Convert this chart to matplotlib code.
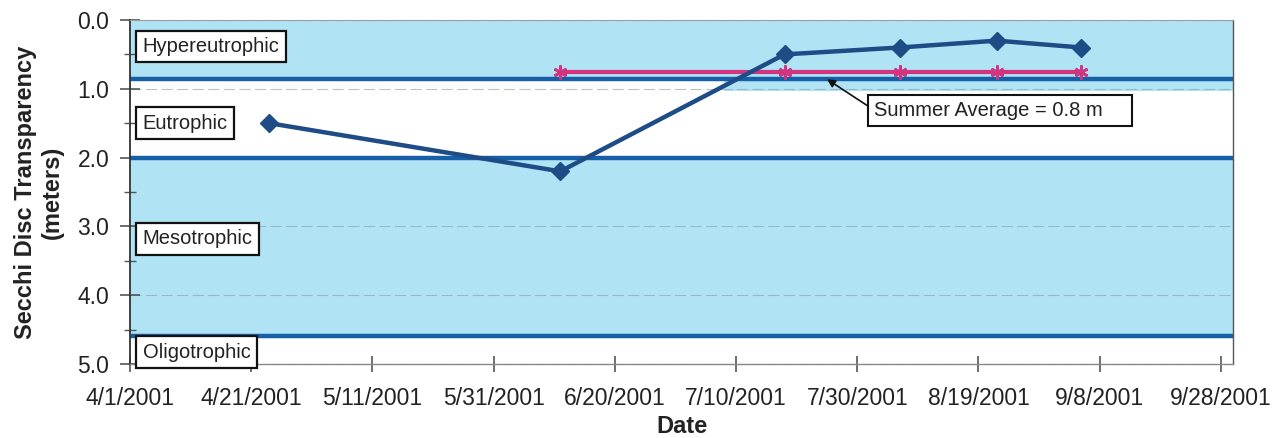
import datetime as dt

import matplotlib
matplotlib.use("Agg")
import matplotlib.pyplot as plt
import matplotlib.dates as mdates
from matplotlib.ticker import MultipleLocator, FormatStrFormatter, FixedLocator
from matplotlib.transforms import blended_transform_factory

plt.rcParams['font.family'] = ['Liberation Sans', 'DejaVu Sans']

# --- data -------------------------------------------------------------------
sample_dates = ["2001-04-24", "2001-06-11", "2001-07-18",
                "2001-08-06", "2001-08-22", "2001-09-05"]
secchi_m = [1.5, 2.2, 0.5, 0.4, 0.3, 0.4]
summer_start = "2001-06-01"

trophic_labels = ["Hypereutrophic", "Eutrophic", "Mesotrophic", "Oligotrophic"]
trophic_label_depths = [0.385, 1.5, 3.18, 4.83]
trophic_bounds = [0.86, 2.0, 4.6]

tick_dates = ["2001-04-01", "2001-04-21", "2001-05-11", "2001-05-31",
              "2001-06-20", "2001-07-10", "2001-07-30", "2001-08-19",
              "2001-09-08", "2001-09-28"]
tick_labels = ["4/1/2001", "4/21/2001", "5/11/2001", "5/31/2001",
               "6/20/2001", "7/10/2001", "7/30/2001", "8/19/2001",
               "9/8/2001", "9/28/2001"]

# --- styling ----------------------------------------------------------------
BAND_BLUE = "#b0e4f5"
LINE_BLUE = "#175fa6"
NAVY = "#1d4c86"
PINK = "#d3347f"
TEXT = "#222222"


def to_num(s):
    return mdates.date2num(dt.datetime.strptime(s, "%Y-%m-%d"))


x = [to_num(s) for s in sample_dates]
summer_idx = [i for i, s in enumerate(sample_dates) if s >= summer_start]
summer_x = [x[i] for i in summer_idx]
summer_avg = sum(secchi_m[i] for i in summer_idx) / len(summer_idx)

fig = plt.figure(figsize=(12.84, 4.38), dpi=100)
ax = fig.add_axes([130 / 1284, 1 - 364 / 438, 1103 / 1284, 344 / 438])

x0, x1 = to_num("2001-04-01"), to_num("2001-09-30")
ax.set_xlim(x0, x1)
ax.set_ylim(5.0, 0.0)

# trophic background bands
ax.axhspan(0, trophic_bounds[2], color=BAND_BLUE, lw=0, zorder=0)
split = to_num("2001-07-08")
ax.fill_between([x0, split], trophic_bounds[0], trophic_bounds[1],
                color="white", lw=0, zorder=0.5)
ax.fill_between([split, x1], 1.03, trophic_bounds[1],
                color="white", lw=0, zorder=0.5)

ax.yaxis.grid(True, which="major", color="#8c9aa2", lw=0.8,
              ls=(0, (10, 4)), alpha=0.6, zorder=1)

for b in trophic_bounds:
    ax.axhline(b, color=LINE_BLUE, lw=3.2, zorder=2)

# summer average
ax.plot(summer_x, [summer_avg] * len(summer_x), color=PINK, lw=3,
        marker=(6, 2, 0), ms=10, mew=2, mec=PINK, zorder=3)

# Secchi readings
ax.plot(x, secchi_m, color=NAVY, lw=3.2, marker="D", ms=9,
        mfc=NAVY, mec=NAVY, zorder=4)

# trophic state labels
lbl_tr = blended_transform_factory(ax.transAxes, ax.transData)
for name, depth in zip(trophic_labels, trophic_label_depths):
    ax.text(0.0115, depth, name, transform=lbl_tr, ha="left", va="center",
            fontsize=14.5, color=TEXT, zorder=6, clip_on=False,
            bbox=dict(boxstyle="square,pad=0.32", fc="white",
                      ec="#111111", lw=1.6))

ax.annotate(f"Summer Average = {summer_avg:.1f} m    ",
            xy=(to_num("2001-07-25"), summer_avg + 0.1),
            xytext=(to_num("2001-08-01") + 0.8, 1.31),
            ha="left", va="center", fontsize=14.5, color=TEXT, zorder=6,
            bbox=dict(boxstyle="square,pad=0.3", fc="white",
                      ec="#111111", lw=1.5),
            arrowprops=dict(arrowstyle="-|>", color="#111111", lw=1.2,
                            mutation_scale=12, relpos=(0, 0.5),
                            shrinkA=0, shrinkB=0))

# axes and ticks
ax.xaxis.set_major_locator(FixedLocator([to_num(s) for s in tick_dates]))
ax.set_xticklabels(tick_labels)
ax.yaxis.set_major_locator(MultipleLocator(1.0))
ax.yaxis.set_minor_locator(MultipleLocator(0.5))
ax.yaxis.set_major_formatter(FormatStrFormatter("%.1f"))

ax.tick_params(axis="x", direction="inout", length=11, width=1.2,
               color="#555555", labelsize=16.5, labelcolor=TEXT, pad=11)
ax.tick_params(axis="y", which="major", direction="inout", length=14,
               width=1.2, color="#555555", labelsize=16.5, labelcolor=TEXT,
               pad=8)
ax.tick_params(axis="y", which="minor", direction="inout", length=8,
               width=1.0, color="#555555")

ax.spines["left"].set_color("#333333")
ax.spines["left"].set_linewidth(1.3)
ax.spines["bottom"].set_color("#888888")
ax.spines["bottom"].set_linewidth(1.0)
ax.spines["top"].set_color("#a0a0a0")
ax.spines["top"].set_linewidth(0.8)
ax.spines["right"].set_color("#555555")
ax.spines["right"].set_linewidth(1.0)

ax.set_ylabel("Secchi Disc Transparency\n(meters)", fontsize=17,
              fontweight="bold", color=TEXT)
ax.yaxis.set_label_coords(-0.06, 0.5)
ax.set_xlabel("Date", fontsize=17, fontweight="bold", color=TEXT)
ax.xaxis.set_label_coords(0.5, -0.148)

fig.savefig("out.png", dpi=100, facecolor="white")
